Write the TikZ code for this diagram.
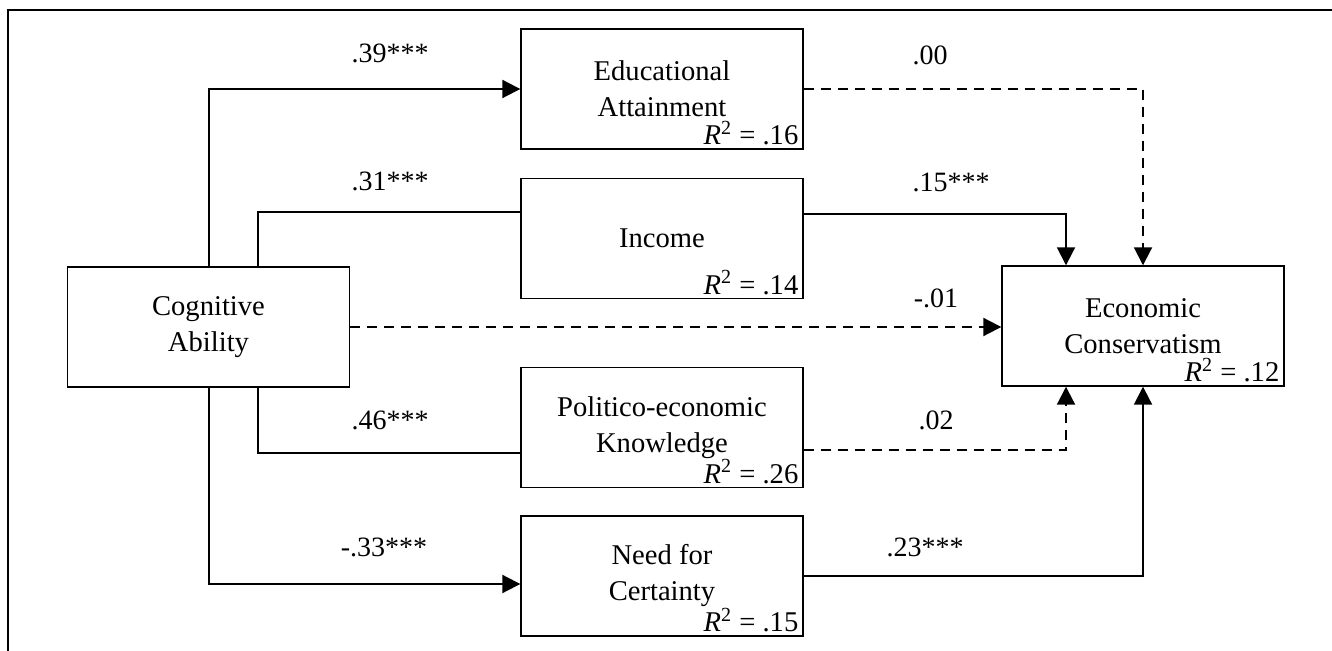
\documentclass[tikz,border=0pt]{standalone}
\usepackage{fontspec}
\setmainfont{Liberation Serif}
\usetikzlibrary{arrows.meta,calc}
\begin{document}
\begin{tikzpicture}[x=0.5pt,y=-0.5pt,
  box/.style={draw, line width=0.7pt, minimum width=141pt, minimum height=60pt, inner sep=0pt, align=center, font=\fontsize{14.3}{18}\selectfont},
  rsq/.style={anchor=base east, inner sep=0pt, font=\fontsize{14.3}{18}\selectfont},
  lab/.style={inner sep=0pt, font=\fontsize{14}{16}\selectfont},
  conn/.style={line width=1pt},
  arr/.style={conn, -{Triangle[length=9pt,width=9pt]}},
  dsh/.style={conn, dash pattern=on 5pt off 3.5pt},
  darr/.style={dsh, -{Triangle[length=9pt,width=9pt]}}
]
\useasboundingbox (0,0) rectangle (1332,651);
\draw[line width=1pt] (1332,10) -- (8,10) -- (8,651);

\node[box] (ca) at (208.5,327) {Cognitive\\Ability};
\node[box] (ea) at (662,89) {Educational\\Attainment};
\node[box] (inc) at (662,238.5) {Income};
\node[box] (pk) at (662,427.5) {Politico-economic\\Knowledge};
\node[box] (nc) at (662,576) {Need for\\Certainty};
\node[box] (ec) at (1143,326) {Economic\\Conservatism};

\node[rsq] (rea) at ($(ea.south east)+(-5,-5)$) {\textit{R}\textsuperscript{2} = .16};
\node[rsq] (rinc) at ($(inc.south east)+(-5,-5)$) {\textit{R}\textsuperscript{2} = .14};
\node[rsq] (rpk) at ($(pk.south east)+(-5,-5)$) {\textit{R}\textsuperscript{2} = .26};
\node[rsq] (rnc) at ($(nc.south east)+(-5,-5)$) {\textit{R}\textsuperscript{2} = .15};
\node[rsq] (rec) at ($(ec.south east)+(-5,-5)$) {\textit{R}\textsuperscript{2} = .12};

\coordinate (cat) at ($(ca.north)+(49.5,0)$);
\coordinate (cab) at ($(ca.south)+(49.5,0)$);

\draw[arr] (ca.north) |- (ea.west);
\draw[conn] (cat) |- ($(inc.west)+(0,-26.5)$);
\draw[conn] (cab) |- ($(pk.west)+(0,25.5)$);
\draw[arr] (ca.south) |- ($(nc.west)+(0,8)$);
\draw[darr] (ca.east) -- (ca.east -| ec.west);

\draw[darr] (ea.east) -| (ec.north);
\draw[arr] ($(inc.east)+(0,-24.5)$) -| ($(ec.north)+(-77,0)$);
\draw[darr] ($(pk.east)+(0,22.5)$) -| ($(ec.south)+(-77,0)$);
\draw[arr] (nc.east) -| (ec.south);

\node[lab] (l1) at (390,53) {.39***};
\node[lab] (l2) at (390,181) {.31***};
\node[lab] (l3) at (390,420) {.46***};
\node[lab] (l4) at (384,547) {-.33***};
\node[lab] (l5) at (930,55) {.00};
\node[lab] (l6) at (951,182) {.15***};
\node[lab] (l7) at (936,298) {-.01};
\node[lab] (l8) at (936,420) {.02};
\node[lab] (l9) at (925,547) {.23***};
\end{tikzpicture}
\end{document}
